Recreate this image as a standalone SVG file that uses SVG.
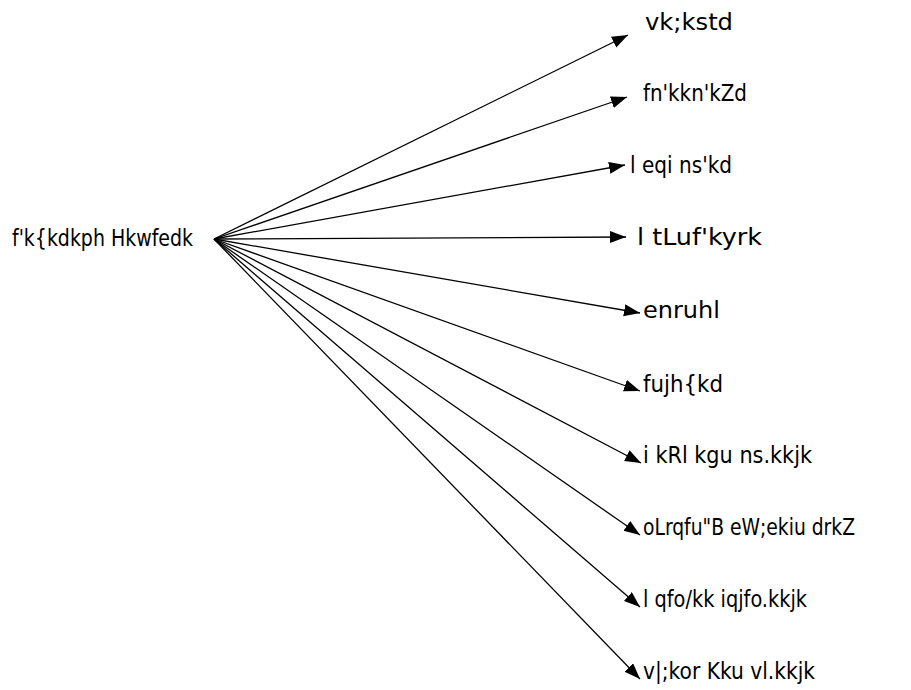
<svg xmlns="http://www.w3.org/2000/svg" width="911" height="690" viewBox="0 0 911 690">
<style>
text{font-family:"DejaVu Sans Condensed","DejaVu Sans","Liberation Sans",sans-serif;font-size:23px;fill:#000;font-stretch:condensed}
.c line{stroke:#000;stroke-width:1.3;marker-end:url(#ah)}
</style>
<defs>
<marker id="ah" markerUnits="userSpaceOnUse" markerWidth="18" markerHeight="14" refX="16" refY="6" orient="auto">
<path d="M0,0 L16,6 L0,12 z" fill="#000"/>
</marker>
</defs>
<rect width="911" height="690" fill="#fff"/>
<g id="connectors" class="c">
<line x1="214" y1="239" x2="628" y2="35"/>
<line x1="214" y1="239" x2="627" y2="97"/>
<line x1="214" y1="239" x2="625" y2="165"/>
<line x1="214" y1="239" x2="626" y2="237"/>
<line x1="214" y1="239" x2="640" y2="313"/>
<line x1="214" y1="239" x2="640" y2="391"/>
<line x1="214" y1="239" x2="641" y2="463"/>
<line x1="214" y1="239" x2="640" y2="535"/>
<line x1="214" y1="239" x2="640" y2="607"/>
<line x1="214" y1="239" x2="640" y2="679"/>
</g>
<g id="root"><text x="12" y="246" textLength="181" lengthAdjust="spacingAndGlyphs">f'k{kdkph Hkwfedk</text></g>
<g id="n1"><text x="645" y="30" textLength="88" lengthAdjust="spacingAndGlyphs">vk;kstd</text></g>
<g id="n2"><text x="643" y="101" textLength="104" lengthAdjust="spacingAndGlyphs">fn'kkn'kZd</text></g>
<g id="n3"><text x="630" y="173" textLength="102" lengthAdjust="spacingAndGlyphs">l eqi ns'kd</text></g>
<g id="n4"><text x="637" y="245" textLength="125" lengthAdjust="spacingAndGlyphs">l tLuf'kyrk</text></g>
<g id="n5"><text x="643" y="318" textLength="77" lengthAdjust="spacingAndGlyphs">enruhl</text></g>
<g id="n6"><text x="643" y="392" textLength="80" lengthAdjust="spacingAndGlyphs">fujh{kd</text></g>
<g id="n7"><text x="643" y="463" textLength="169" lengthAdjust="spacingAndGlyphs">i kRl kgu ns.kkjk</text></g>
<g id="n8"><text x="643" y="535" textLength="212" lengthAdjust="spacingAndGlyphs">oLrqfu"B eW;ekiu drkZ</text></g>
<g id="n9"><text x="643" y="607" textLength="164" lengthAdjust="spacingAndGlyphs">l qfo/kk iqjfo.kkjk</text></g>
<g id="n10"><text x="643" y="679" textLength="172" lengthAdjust="spacingAndGlyphs">v|;kor Kku vl.kkjk</text></g>
</svg>
